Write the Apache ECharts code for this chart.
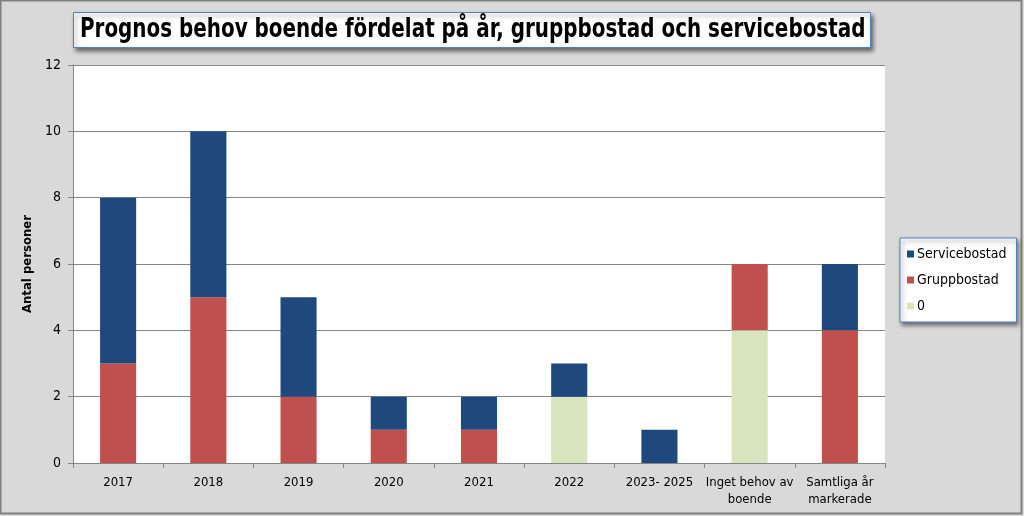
<!DOCTYPE html>
<html><head><meta charset="utf-8">
<script src="https://cdn.jsdelivr.net/npm/echarts@6/dist/echarts.min.js"></script>
<style>html,body{margin:0;padding:0;background:#d9d9d9}#c{width:1024px;height:516px}</style>
</head><body><div id="c"></div>
<script>
const categories = ['2017','2018','2019','2020','2021','2022','2023- 2025','Inget behov av\nboende','Samtliga år\nmarkerade'];
const serviceValues = [5,5,3,1,1,1,1,0,2];
const gruppValues = [3,5,2,1,1,0,0,2,4];
const zeroValues = [0,0,0,0,0,2,0,4,0];
const yTicks = [0,2,4,6,8,10,12];
const titleText = 'Prognos behov boende fördelat på år, gruppbostad och servicebostad';
const FONT = '"DejaVu Sans Condensed","Noto Sans",sans-serif';

const chart = echarts.init(document.getElementById('c'));
chart.setOption({
  backgroundColor: '#d9d9d9',
  animation: false,
  legend: {
    orient: 'vertical', left: 900, top: 238,
    data: ['Servicebostad', 'Gruppbostad', '0'],
    icon: 'rect', itemWidth: 7, itemHeight: 7, itemGap: 12,
    padding: [9, 10, 9, 7],
    backgroundColor: '#ffffff', borderColor: '#4f81bd', borderWidth: 1,
    shadowBlur: 4, shadowColor: 'rgba(0,0,0,0.5)', shadowOffsetX: 2, shadowOffsetY: 3,
    textStyle: { fontFamily: FONT, fontSize: 14, color: '#000', padding: [0, 0, 0, -2] }
  },
  grid: { left: 73, right: 139, top: 65, bottom: 53, backgroundColor: '#fff', show: true, borderWidth: 0 },
  xAxis: {
    type: 'category', data: categories,
    axisLine: { lineStyle: { color: '#868686' } },
    axisTick: { show: true, alignWithLabel: false, length: 5, lineStyle: { color: '#868686' } },
    axisLabel: { fontFamily: FONT, fontSize: 13, color: '#000', interval: 0, margin: 11, lineHeight: 17 }
  },
  yAxis: {
    type: 'value', min: 0, max: 12, interval: 2,
    name: 'Antal personer', nameLocation: 'middle', nameGap: 37, nameRotate: 90,
    nameTextStyle: { fontFamily: FONT, fontWeight: 'bold', fontSize: 13, color: '#000' },
    axisLine: { show: true, lineStyle: { color: '#868686' } },
    axisTick: { show: true, length: 5, lineStyle: { color: '#868686' } },
    splitLine: { lineStyle: { color: '#868686' } },
    axisLabel: { fontFamily: FONT, fontSize: 14, color: '#000', margin: 12,
      formatter: v => yTicks.includes(v) ? String(v) : '' }
  },
  series: [
    { name: '0', type: 'bar', stack: 's', data: zeroValues, barWidth: '40%', itemStyle: { color: '#d7e4bd' } },
    { name: 'Gruppbostad', type: 'bar', stack: 's', data: gruppValues, barWidth: '40%', itemStyle: { color: '#c0504d' } },
    { name: 'Servicebostad', type: 'bar', stack: 's', data: serviceValues, barWidth: '40%', itemStyle: { color: '#1f497d' } }
  ],
  graphic: [
    { type: 'rect', shape: { x: 0.5, y: 0.5, width: 1021, height: 513 }, style: { fill: 'none', stroke: '#808080', lineWidth: 2 }, silent: true },
    { type: 'rect', shape: { x: 73.5, y: 12.5, width: 797, height: 35 },
      style: { fill: '#fff', stroke: '#4f81bd', lineWidth: 1, shadowBlur: 4, shadowColor: 'rgba(0,0,0,0.5)', shadowOffsetX: 2, shadowOffsetY: 3 }, z: 10 },
    { type: 'text', x: 80, y: 30, scaleX: 0.82, z: 11,
      style: { text: titleText, fontFamily: FONT, fontWeight: 'bold', fontSize: 27, fill: '#000', textVerticalAlign: 'middle', verticalAlign: 'middle' } }
  ]
});
</script></body></html>
